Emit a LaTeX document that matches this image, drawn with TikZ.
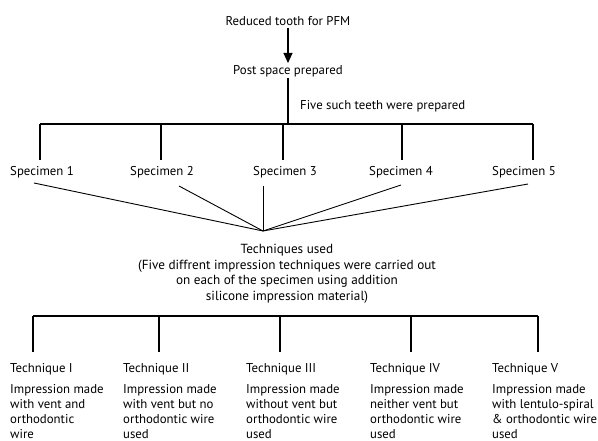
\documentclass[tikz,border=0pt]{standalone}
\usepackage{fontspec}
\setmainfont{PT Sans}
\usetikzlibrary{arrows.meta,calc}
\begin{document}
\begin{tikzpicture}[x=1pt,y=-1pt,
  txt/.style={inner sep=0pt,font=\fontsize{12.8}{15.4}\selectfont},
  lbl/.style={txt,anchor=base west},
  desc/.style={txt,anchor=north west,align=left,font=\fontsize{12.8}{14.9}\selectfont},
  ln/.style={line width=1.1pt,black},
  fan/.style={line width=0.9pt,black}]
\useasboundingbox (0,0) rectangle (598,441);
% top
\node[txt] (r) at (288,21) {Reduced tooth for PFM};
\node[txt] (p) at (288,71) {Post space prepared};
\draw[ln,-{Triangle[length=10pt,width=9pt]}] (288,28) coordinate (a0) -- (288,63) coordinate (a1);
\node[txt,anchor=west] (five) at (300,106) {Five such teeth were prepared};
% top bracket
\coordinate (t0) at (288,78);
\coordinate (tb) at (288,124);
\coordinate (b1) at (40,124);
\coordinate (b2) at (161,124);
\coordinate (b3) at (283,124);
\coordinate (b4) at (402,124);
\coordinate (b5) at (533,124);
\draw[ln] (t0) -- (tb);
\draw[ln] (b1) -- (b5);
\foreach \i in {1,...,5}{\draw[ln] (b\i) -- ++(0,36);}
% specimens
\node[txt] (s1) at (42,172) {Specimen 1};
\node[txt] (s2) at (162,172) {Specimen 2};
\node[txt] (s3) at (285,172) {Specimen 3};
\node[txt] (s4) at (401,172) {Specimen 4};
\node[txt] (s5) at (524,172) {Specimen 5};
% fan
\coordinate (c) at (263,231);
\coordinate (f1) at (34,183);
\coordinate (f2) at (179,186);
\coordinate (f3) at (263,186);
\coordinate (f4) at (401,185);
\coordinate (f5) at (528,184);
\foreach \i in {1,...,5}{\draw[fan] (f\i) -- (c);}
% techniques used
\node[txt,align=center,anchor=north,font=\fontsize{13.2}{15.5}\selectfont] (tu) at (287,244) {Techniques used\\(Five diffrent impression techniques were carried out\\on each of the specimen using addition\\silicone impression material)};
% bottom bracket
\coordinate (d1) at (33,316);
\coordinate (d2) at (159,316);
\coordinate (d3) at (280,316);
\coordinate (d4) at (411,316);
\coordinate (d5) at (538,316);
\draw[ln] (d1) -- (d5);
\foreach \i in {1,...,5}{\draw[ln] (d\i) -- ++(0,36);}
% techniques
\node[lbl] (k1) at (10,372) {Technique I};
\node[lbl] (k2) at (123,372) {Technique II};
\node[lbl] (k3) at (246,372) {Technique III};
\node[lbl] (k4) at (370,372) {Technique IV};
\node[lbl] (k5) at (492,372) {Technique V};
\node[desc] (e1) at (10,384.5) {Impression made\\with vent and\\orthodontic\\wire};
\node[desc] (e2) at (123,384.5) {Impression made\\with vent but no\\orthodontic wire\\used};
\node[desc] (e3) at (246,384.5) {Impression made\\without vent but\\orthodontic wire\\used};
\node[desc] (e4) at (370,384.5) {Impression made\\neither vent but\\orthodontic wire\\used};
\node[desc] (e5) at (492,384.5) {Impression made\\with lentulo-spiral\\\& orthodontic wire\\used};
\end{tikzpicture}
\end{document}
